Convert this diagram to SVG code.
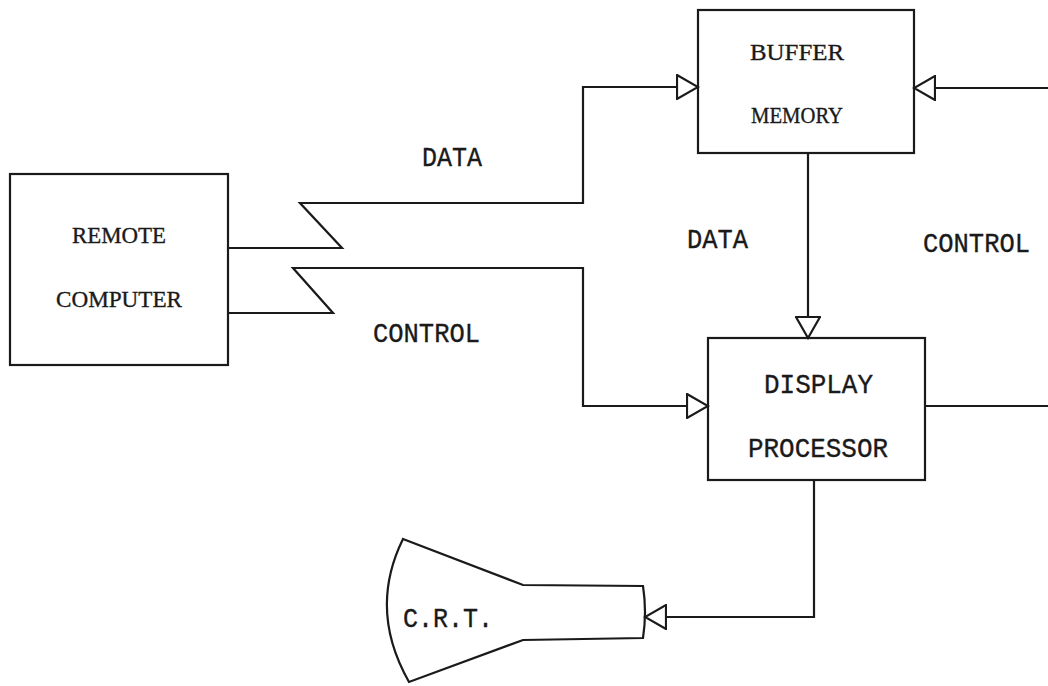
<svg xmlns="http://www.w3.org/2000/svg" width="1048" height="686" viewBox="0 0 1048 686">
  <defs>
    <style>
      .box { fill: none; stroke: #1a1a1a; stroke-width: 2.2; }
      .wire { fill: none; stroke: #1a1a1a; stroke-width: 2.2; stroke-linejoin: miter; marker-end: url(#open); }
      .plain { fill: none; stroke: #1a1a1a; stroke-width: 2.2; }
      .serif { font-family: "Liberation Serif", "Times New Roman", serif; font-size: 24px; fill: #1a1a1a; stroke: #1a1a1a; stroke-width: 0.35; text-anchor: middle; }
      .mono { font-family: "Liberation Mono", "Courier New", monospace; font-size: 27px; fill: #1a1a1a; stroke: #1a1a1a; stroke-width: 0.35; }
    </style>
    <!-- open triangular arrowhead, tip on the line end -->
    <marker id="open" viewBox="0 0 24 26" refX="22" refY="13" markerWidth="24" markerHeight="26" markerUnits="userSpaceOnUse" orient="auto">
      <path d="M1,1 L22,13 L1,25 Z" fill="#fff" stroke="#1a1a1a" stroke-width="2.2" stroke-linejoin="miter"/>
    </marker>
  </defs>

  <rect width="1048" height="686" fill="#fff"/>

  <g id="connectors">
    <!-- data link with break symbol -->
    <path class="wire" d="M228,248 H342 L300,203 H583 V87 H698"/>
    <!-- control link with break symbol -->
    <path class="wire" d="M228,313 H333 L293,268 H583 V406 H708"/>
    <!-- buffer to processor -->
    <path class="wire" d="M808,153 V338"/>
    <!-- processor control back to buffer -->
    <path class="wire" d="M925,406 H1062 V88 H914"/>
    <!-- processor to tube -->
    <path class="wire" d="M814,480 V617 H645"/>
  </g>

  <g id="remote-computer">
    <rect class="box" x="10" y="174" width="218" height="191"/>
    <text class="serif" x="119" y="243" textLength="94" lengthAdjust="spacingAndGlyphs">REMOTE</text>
    <text class="serif" x="119" y="307" textLength="126" lengthAdjust="spacingAndGlyphs">COMPUTER</text>
  </g>

  <g id="buffer-memory">
    <rect class="box" x="698" y="10" width="216" height="143"/>
    <text class="serif" x="797" y="60" textLength="94" lengthAdjust="spacingAndGlyphs">BUFFER</text>
    <text class="serif" x="797" y="123" textLength="92" lengthAdjust="spacingAndGlyphs">MEMORY</text>
  </g>

  <g id="display-processor">
    <rect class="box" x="708" y="338" width="217" height="142"/>
    <text class="mono" x="764" y="393" textLength="109" lengthAdjust="spacingAndGlyphs">DISPLAY</text>
    <text class="mono" x="748" y="457" textLength="140" lengthAdjust="spacingAndGlyphs">PROCESSOR</text>
  </g>

  <g id="crt">
    <path class="plain" d="M403,539 L523,585 L643,586 Q647,612 643,638 L523,640 L409,682 Q368,610 403,539 Z"/>
    <text class="mono" x="403" y="627" textLength="90" lengthAdjust="spacingAndGlyphs">C.R.T.</text>
  </g>

  <g id="labels">
    <text class="mono" x="422" y="166" textLength="60" lengthAdjust="spacingAndGlyphs">DATA</text>
    <text class="mono" x="687" y="248" textLength="61" lengthAdjust="spacingAndGlyphs">DATA</text>
    <text class="mono" x="373" y="342" textLength="107" lengthAdjust="spacingAndGlyphs">CONTROL</text>
    <text class="mono" x="923" y="252" textLength="107" lengthAdjust="spacingAndGlyphs">CONTROL</text>
  </g>
</svg>
